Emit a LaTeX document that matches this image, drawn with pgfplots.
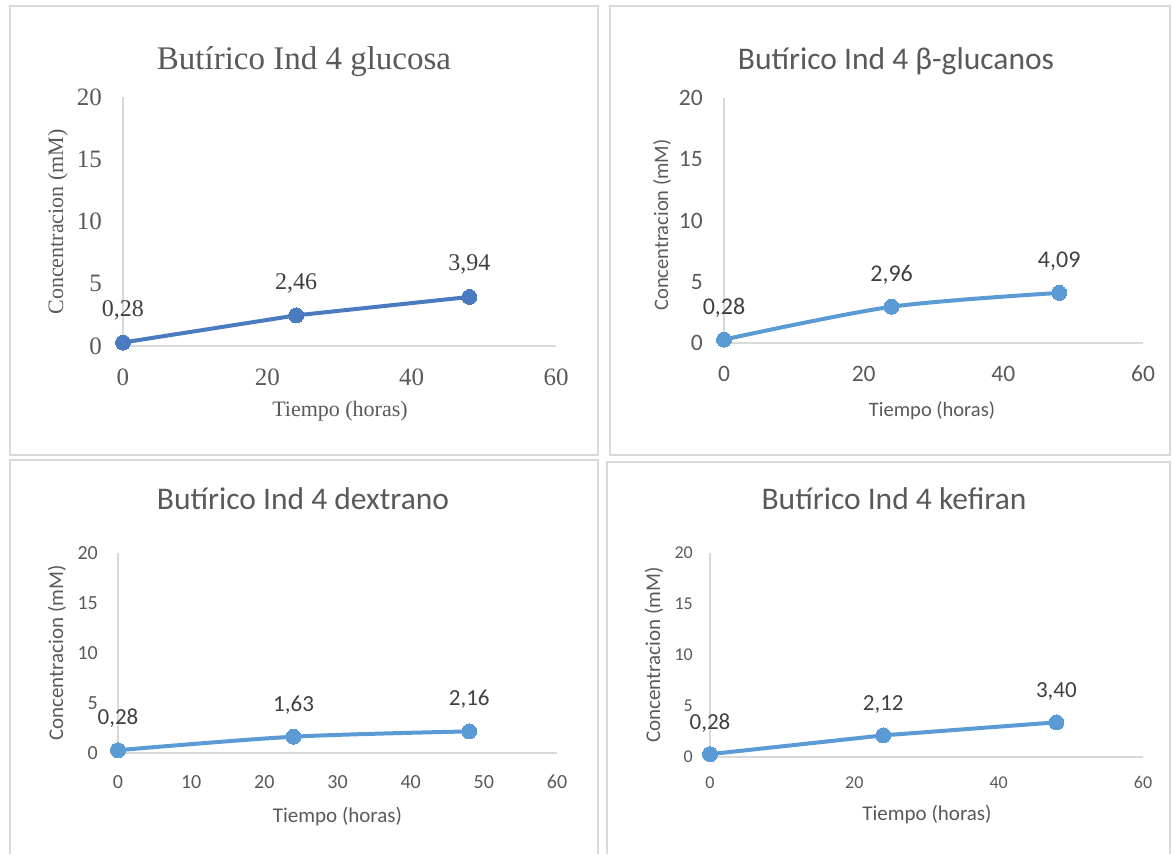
\documentclass[border=0pt]{standalone}
\usepackage{pgfplots}
\pgfplotsset{compat=1.18}
\usepackage{fontspec}
\setmainfont{Carlito}
\newfontfamily\serifp{Liberation Serif}
\definecolor{txt}{HTML}{595959}
\definecolor{lbl}{HTML}{404040}
\definecolor{axl}{HTML}{D9D9D9}
\definecolor{bord}{HTML}{D9D9D9}
\definecolor{serA}{HTML}{4A7BC0}
\definecolor{serB}{HTML}{5B9BD5}
\newcommand{\fs}[1]{\fontsize{#1}{#1}\selectfont}
\pgfplotsset{
  base/.style={
    scale only axis, clip=false, anchor=origin,
    xmin=0,xmax=60,ymin=0,ymax=20,
    axis lines*=left,
    axis line style={axl, line width=2pt},
    major tick length=0pt,
    ytick={0,5,10,15,20},
    tick label style={text=txt},
    /pgf/number format/assume math mode=true,
    every node near coord/.append style={anchor=base, text=lbl, inner sep=0pt},
  },
  ser/.style={#1, line width=4pt, mark=*, mark size=7.5pt,
    mark options={solid, fill=#1, draw=#1, line width=0pt},
    nodes near coords, point meta=explicit symbolic},
}
\begin{document}
\begin{tikzpicture}[x=1pt,y=1pt]
\path (0,0) rectangle (1173,854);
% panel frames
\draw[bord, line width=1.5pt] (10,848) rectangle (598,399);
\draw[bord, line width=1.5pt] (610,848) rectangle (1170,399);
\draw[bord, line width=1.5pt] (10,0) -- (10,394) -- (598,394) -- (598,0);
\draw[bord, line width=1.5pt] (607,0) -- (607,392) -- (1170,392) -- (1170,0);

% ---------- Panel 1 ----------
\begin{axis}[base, at={(123pt,508pt)}, width=433pt, height=249pt,
  xtick={0,20,40,60},
  xticklabel style={anchor=base, yshift=-39.5pt, inner sep=0pt, font=\serifp\fs{25}},
  yticklabel style={anchor=east, xshift=-21pt, inner sep=0pt, font=\serifp\fs{25}},
  every node near coord/.append style={yshift=26pt, font=\serifp\fs{24}},
]
\addplot[ser=serA] table[meta=l] {
x y l
0 0.28 0,28
24 2.46 2,46
48 3.94 3,94
};
\end{axis}
\node[anchor=base, text=txt, font=\serifp\fs{33}] at (304,784) {Butírico Ind 4 glucosa};
\node[anchor=base, text=txt, font=\serifp\fs{22}] at (340,437) {Tiempo (horas)};
\node[anchor=base, rotate=90, text=txt, font=\serifp\fs{22}] at (63,632) {Concentracion (mM)};

% ---------- Panel 2 ----------
\begin{axis}[base, at={(724pt,511pt)}, width=419pt, height=245pt,
  xtick={0,20,40,60},
  xticklabel style={anchor=base, yshift=-38.5pt, inner sep=0pt, font=\fs{23.5}},
  yticklabel style={anchor=east, xshift=-21pt, inner sep=0pt, font=\fs{23.5}},
  every node near coord/.append style={yshift=25pt, font=\fs{24}},
]
\addplot[ser=serB, smooth, tension=0.5] table[meta=l] {
x y l
0 0.28 0,28
24 2.96 2,96
48 4.09 4,09
};
\end{axis}
\node[anchor=base, text=txt, font=\fs{31.5}] at (896,784.5) {Butírico Ind 4 β-glucanos};
\node[anchor=base, text=txt, font=\fs{20.5}] at (932,437) {Tiempo (horas)};
\node[anchor=base, rotate=90, text=txt, font=\fs{20.5}] at (668,629) {Concentracion (mM)};

% ---------- Panel 3 ----------
\begin{axis}[base, at={(118pt,101pt)}, width=439pt, height=200pt,
  xtick={0,10,20,30,40,50,60},
  xticklabel style={anchor=base, yshift=-35pt, inner sep=0pt, font=\fs{20}},
  yticklabel style={anchor=east, xshift=-20pt, inner sep=0pt, font=\fs{20}},
  every node near coord/.append style={yshift=25.5pt, font=\fs{23}},
]
\addplot[ser=serB, smooth, tension=0.5] table[meta=l] {
x y l
0 0.28 0,28
24 1.63 1,63
48 2.16 2,16
};
\end{axis}
\node[anchor=base, text=txt, font=\fs{31.5}] at (303,344) {Butírico Ind 4 dextrano};
\node[anchor=base, text=txt, font=\fs{21}] at (337.5,32) {Tiempo (horas)};
\node[anchor=base, rotate=90, text=txt, font=\fs{21}] at (63,201) {Concentracion (mM)};

% ---------- Panel 4 ----------
\begin{axis}[base, at={(710pt,97pt)}, width=433pt, height=204pt,
  xtick={0,20,40,60},
  xticklabel style={anchor=base, yshift=-31pt, inner sep=0pt, font=\fs{18}},
  yticklabel style={anchor=east, xshift=-17pt, inner sep=0pt, font=\fs{18}},
  every node near coord/.append style={yshift=25pt, font=\fs{23}},
]
\addplot[ser=serB] table[meta=l] {
x y l
0 0.28 0,28
24 2.12 2,12
48 3.40 3,40
};
\end{axis}
\node[anchor=base, text=txt, font=\fs{31.5}] at (894,344) {Butírico Ind 4 kefiran};
\node[anchor=base, text=txt, font=\fs{21}] at (927,34) {Tiempo (horas)};
\node[anchor=base, rotate=90, text=txt, font=\fs{21}] at (660,199) {Concentracion (mM)};
\end{tikzpicture}
\end{document}
